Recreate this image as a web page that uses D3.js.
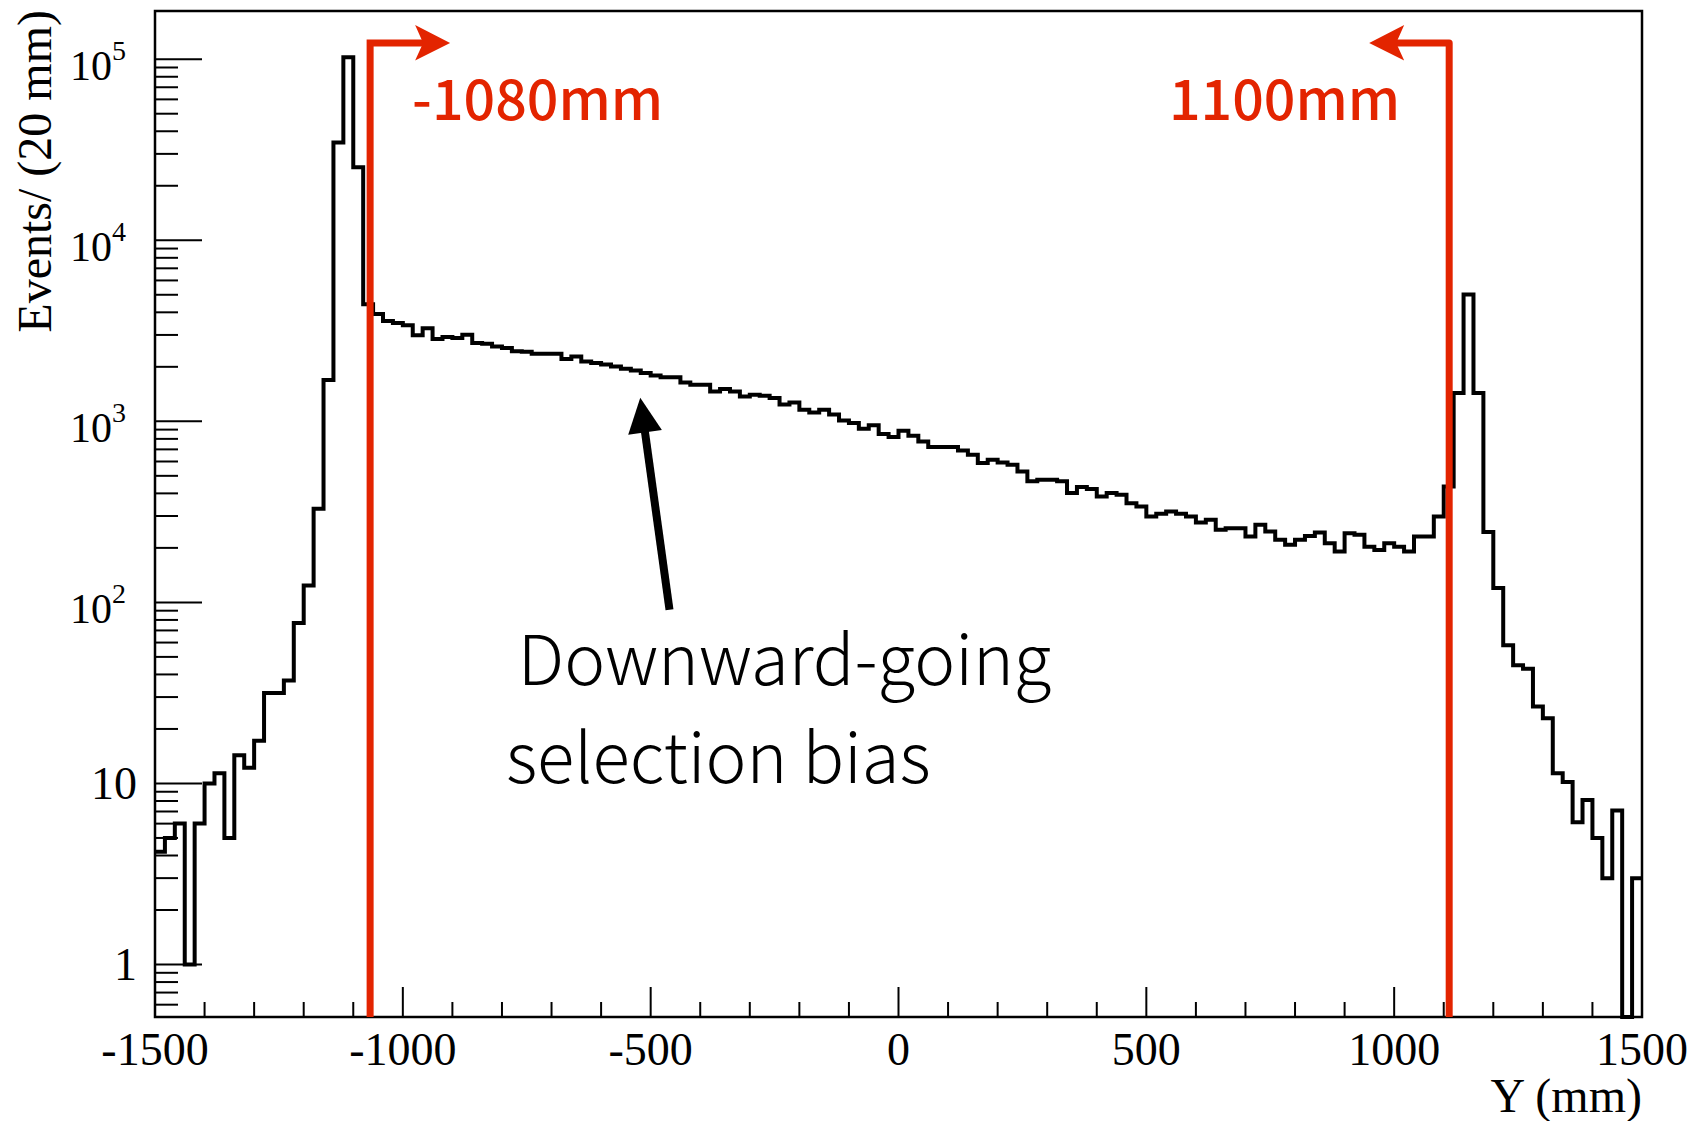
<!DOCTYPE html>
<html>
<head>
<meta charset="utf-8">
<script src="https://cdn.jsdelivr.net/npm/d3@7"></script>
<style>
  body { margin: 0; background: #fff; }
</style>
</head>
<body>
<svg id="area" width="1692" height="1121"></svg>
<script>
// histogram: 150 bins of 20 mm from -1500 to 1500
const binLow = -1500;
const binWidth = 20;
const counts = [
  4.2, 5.0, 6.0, 1.0, 6.0, 10, 11.4, 5.0, 14.3, 12.2,
  17.2, 31.6, 31.6, 37, 77, 124, 329, 1690, 34700, 102600,
  25300, 4430, 3920, 3580, 3490, 3390, 2990, 3270, 2850, 2920,
  2890, 3010, 2710, 2680, 2590, 2540, 2440, 2420, 2360, 2360,
  2360, 2210, 2280, 2140, 2100, 2060, 2010, 1950, 1910, 1850,
  1790, 1750, 1750, 1640, 1590, 1590, 1460, 1510, 1460, 1370,
  1400, 1385, 1345, 1240, 1270, 1160, 1120, 1160, 1090, 1010,
  980, 910, 950, 851, 819, 887, 832, 774, 721, 721,
  721, 691, 654, 588, 614, 593, 576, 529, 466, 476,
  476, 466, 402, 434, 423, 385, 402, 393, 353, 339,
  298, 309, 318, 309, 298, 276, 286, 252, 257, 257,
  231, 268, 246, 222, 208, 222, 233, 243, 212, 191,
  241, 236, 203, 195, 212, 203, 191, 231, 231, 298,
  436, 1435, 5010, 1435, 245, 120, 58, 45, 43, 26.6,
  22.9, 11.4, 10.2, 6.1, 8.1, 5.0, 3.0, 7.1, 0, 3.0
];
const xMajorTicks = [-1500, -1000, -500, 0, 500, 1000, 1500];
const yDecades = [1, 10, 100, 1000, 10000, 100000];
const cutPositions = [-1066, 1111];
const cutLabels = ['-1080mm', '1100mm'];
const noteLines = ['Downward-going', 'selection bias'];

const width = 1487;
const height = 1006;
const margin = { top: 11, left: 155 };
const svg = d3.select('#area');

const x = d3.scaleLinear()
  .domain([-1500, 1500])
  .range([margin.left, margin.left + width]);
const y = d3.scaleLog()
  .domain([0.513, 184600])
  .range([margin.top + height, margin.top]);
const bottom = margin.top + height;
const yv = (v) => (v > 0 ? y(v) : bottom);

// minor ticks
const xMinor = d3.range(-1400, 1500, 100).filter((d) => d % 500 !== 0);
const yMinor = [0.6, 0.7, 0.8, 0.9];
yDecades.forEach((d) => d3.range(2, 10).forEach((m) => { if (d * m < 184600) yMinor.push(d * m); }));

const axes = svg.append('g').attr('stroke', '#000').attr('stroke-width', 2);
axes.selectAll('.xmaj').data(xMajorTicks.slice(1, -1)).enter().append('line')
  .attr('x1', (d) => x(d)).attr('x2', (d) => x(d))
  .attr('y1', bottom).attr('y2', bottom - 30);
axes.selectAll('.xmin').data(xMinor).enter().append('line')
  .attr('x1', (d) => x(d)).attr('x2', (d) => x(d))
  .attr('y1', bottom).attr('y2', bottom - 15);
axes.selectAll('.ymaj').data(yDecades).enter().append('line')
  .attr('x1', margin.left).attr('x2', margin.left + 47)
  .attr('y1', (d) => y(d)).attr('y2', (d) => y(d));
axes.selectAll('.ymin').data(yMinor).enter().append('line')
  .attr('x1', margin.left).attr('x2', margin.left + 23)
  .attr('y1', (d) => y(d)).attr('y2', (d) => y(d));

// histogram
const pts = counts.map((c, i) => [x(binLow + i * binWidth), yv(c)]);
pts.push([x(1500), yv(counts[counts.length - 1])]);
svg.append('path')
  .attr('d', d3.line().curve(d3.curveStepAfter)(pts))
  .attr('fill', 'none')
  .attr('stroke', '#000')
  .attr('stroke-width', 4);

// frame
svg.append('rect')
  .attr('x', margin.left).attr('y', margin.top)
  .attr('width', width).attr('height', height)
  .attr('fill', 'none').attr('stroke', '#000').attr('stroke-width', 2.5);

// tick labels
const serif = 'Liberation Serif, Times New Roman, serif';
svg.selectAll('.xl').data(xMajorTicks).enter().append('text')
  .attr('x', (d) => x(d)).attr('y', 1065)
  .attr('text-anchor', 'middle')
  .attr('font-family', serif).attr('font-size', 46)
  .text((d) => (d < 0 ? '-' + Math.abs(d) : d));

yDecades.forEach((d) => {
  const p = Math.round(Math.log10(d));
  if (p < 2) {
    svg.append('text')
      .attr('x', 137).attr('y', y(d)).attr('dy', '0.34em')
      .attr('text-anchor', 'end')
      .attr('font-family', serif).attr('font-size', 46)
      .text(d);
  } else {
    const t = svg.append('text')
      .attr('x', 126).attr('y', y(d) + 21)
      .attr('text-anchor', 'end')
      .attr('font-family', serif).attr('font-size', 42)
      .text('10');
    t.append('tspan').attr('font-size', 28).attr('dy', -20).text(p);
  }
});

svg.append('text')
  .attr('transform', `translate(51, ${margin.top - 1}) rotate(-90)`)
  .attr('text-anchor', 'end')
  .attr('font-family', serif).attr('font-size', 48)
  .text('Events/ (20 mm)');
svg.append('text')
  .attr('x', margin.left + width).attr('y', 1112)
  .attr('text-anchor', 'end')
  .attr('font-family', serif).attr('font-size', 48)
  .text('Y (mm)');

// cut lines
const red = '#e32400';
const topY = margin.top + 32;
const sans = 'Noto Sans CJK JP, Noto Sans, sans-serif';
cutPositions.forEach((c, i) => {
  const xc = x(c);
  const dir = i === 0 ? 1 : -1;
  svg.append('path')
    .attr('d', `M${xc},${bottom} V${topY} H${xc + dir * 54}`)
    .attr('fill', 'none').attr('stroke', red).attr('stroke-width', 7)
    .attr('stroke-linejoin', i === 0 ? 'miter' : 'round');
  svg.append('path')
    .attr('d', `M${xc + dir * 80},${topY} L${xc + dir * 45},${topY - 18} L${xc + dir * 53},${topY} L${xc + dir * 45},${topY + 17.5} Z`)
    .attr('fill', red);
  svg.append('text')
    .attr('x', i === 0 ? xc + 42 : xc - 49).attr('y', 120)
    .attr('text-anchor', i === 0 ? 'start' : 'end')
    .attr('font-family', sans).attr('font-weight', 500).attr('font-size', 55.5)
    .attr('fill', red)
    .text(cutLabels[i]);
});

// annotation arrow and text
const tip = [x(-521), y(1350)];
const tail = [x(-462), y(91)];
const ang = Math.atan2(tip[1] - tail[1], tip[0] - tail[0]);
const headLen = 35;
const headHalf = 17;
const base = [tip[0] - headLen * Math.cos(ang), tip[1] - headLen * Math.sin(ang)];
svg.append('line')
  .attr('x1', tail[0]).attr('y1', tail[1])
  .attr('x2', base[0] + 4 * Math.cos(ang)).attr('y2', base[1] + 4 * Math.sin(ang))
  .attr('stroke', '#000').attr('stroke-width', 8);
svg.append('path')
  .attr('d', `M${tip[0]},${tip[1]}
    L${base[0] - headHalf * Math.sin(ang)},${base[1] + headHalf * Math.cos(ang)}
    L${base[0] + headHalf * Math.sin(ang)},${base[1] - headHalf * Math.cos(ang)} Z`)
  .attr('fill', '#000');

svg.selectAll('.note').data(noteLines).enter().append('text')
  .attr('x', (d, i) => x(i === 0 ? -768 : -792))
  .attr('y', (d, i) => y(i === 0 ? 35 : 10.07))
  .attr('font-family', sans).attr('font-weight', 300).attr('font-size', 69)
  .attr('fill', '#000')
  .text((d) => d);
</script>
</body>
</html>
